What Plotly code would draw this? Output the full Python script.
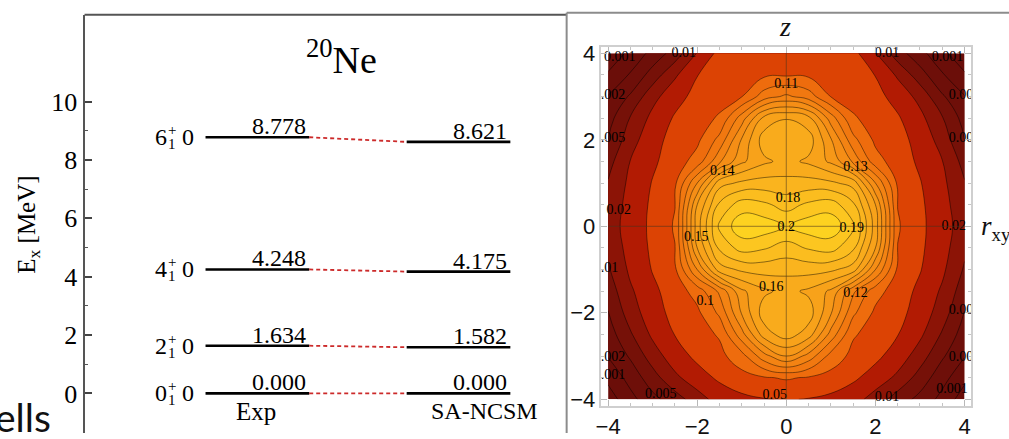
import numpy as np
import plotly.graph_objects as go

# ---------------- left panel: 20Ne ground-state band ----------------
STATE_J = ["0", "2", "4", "6"]
E_EXP = [0.000, 1.634, 4.248, 8.778]
E_SANCSM = [0.000, 1.582, 4.175, 8.621]
E_TICKS = [0, 2, 4, 6, 8, 10]
E_MINOR = [1, 3, 5, 7, 9]

# ---------------- right panel: density on a 0.5 mesh ----------------
# columns: r_xy = 0 ... 4 (the density is mirror-symmetric in r_xy)
R_HALF = [0.0, 0.5, 1.0, 1.5, 2.0, 2.5, 3.0, 3.5, 4.0]
# rows: z = 4 ... -4
Z_ROWS = [4.0, 3.5, 3.0, 2.5, 2.0, 1.5, 1.0, 0.5, 0.0,
          -0.5, -1.0, -1.5, -2.0, -2.5, -3.0, -3.5, -4.0]
RHO_HALF = [
    [0.072, 0.070, 0.067, 0.062, 0.021, 0.0068, 0.0027, 0.0012, 0.0006],
    [0.092, 0.088, 0.078, 0.064, 0.049, 0.018, 0.0068, 0.0022, 0.0011],
    [0.122, 0.115, 0.098, 0.080, 0.062, 0.036, 0.016, 0.0055, 0.0021],
    [0.1595, 0.153, 0.125, 0.101, 0.078, 0.054, 0.026, 0.0105, 0.0035],
    [0.168, 0.165, 0.141, 0.113, 0.086, 0.063, 0.037, 0.015, 0.0049],
    [0.163, 0.158, 0.148, 0.128, 0.104, 0.070, 0.043, 0.0205, 0.0078],
    [0.173, 0.174, 0.172, 0.166, 0.130, 0.088, 0.052, 0.025, 0.0105],
    [0.186, 0.192, 0.195, 0.182, 0.150, 0.098, 0.056, 0.029, 0.012],
    [0.199, 0.206, 0.207, 0.192, 0.155, 0.101, 0.058, 0.030, 0.014],
    [0.186, 0.191, 0.194, 0.182, 0.150, 0.098, 0.056, 0.029, 0.0115],
    [0.173, 0.174, 0.172, 0.165, 0.130, 0.088, 0.052, 0.024, 0.0092],
    [0.163, 0.158, 0.148, 0.122, 0.104, 0.069, 0.041, 0.018, 0.0068],
    [0.168, 0.165, 0.141, 0.112, 0.086, 0.061, 0.035, 0.014, 0.0048],
    [0.165, 0.155, 0.126, 0.101, 0.076, 0.051, 0.024, 0.0092, 0.0032],
    [0.140, 0.126, 0.106, 0.082, 0.058, 0.034, 0.014, 0.0055, 0.0021],
    [0.101, 0.094, 0.078, 0.056, 0.035, 0.017, 0.0075, 0.0028, 0.0012],
    [0.052, 0.048, 0.040, 0.030, 0.0145, 0.0072, 0.0038, 0.0016, 0.0007],
]
LEVELS = [0.001, 0.002, 0.005, 0.01, 0.02, 0.05,
          0.10, 0.11, 0.12, 0.13, 0.14, 0.15, 0.16, 0.17, 0.18, 0.19, 0.20]
# colours of the regions: below the first level, then between successive levels
BAND_COLORS = ["#690d09", "#6b0e09", "#6e0f09", "#761108", "#8c1406",
               "#b21b03", "#dc4304", "#ee6c0d", "#f17810", "#f38313",
               "#f58e16", "#f69818", "#f8a21a", "#f9ab1c", "#fab41e",
               "#fbbd1f", "#fcc620", "#fdd220"]
# contour labels: (text, r_xy, z)
CLABELS = [
    ("0.001", -3.74, 3.90), ("0.01", -2.30, 3.99), ("0.01", 2.26, 3.99),
    ("0.001", 3.62, 3.90), ("0.002", -3.97, 3.03), ("0.002", 4.0, 3.03),
    ("0.005", -3.97, 2.02), ("0.005", 4.0, 2.02), ("0.02", -3.76, 0.36),
    ("0.02", 3.76, 0.0), ("0.01", -4.05, -0.97), ("0.005", 4.0, -1.94),
    ("0.002", -3.97, -3.03), ("0.002", 4.0, -3.03), ("0.001", -3.97, -3.44),
    ("0.001", 3.72, -3.77), ("0.005", -2.82, -3.89), ("0.05", -0.26, -3.92),
    ("0.01", 2.26, -3.97), ("0.11", 0.0, 3.29), ("0.14", -1.44, 1.27),
    ("0.13", 1.55, 1.35), ("0.18", 0.04, 0.65), ("0.2", 0.0, -0.02),
    ("0.19", 1.47, -0.06), ("0.15", -2.02, -0.26), ("0.16", -0.34, -1.41),
    ("0.1", -1.82, -1.73), ("0.12", 1.55, -1.55),
]

W, H = 1009, 439
SERIF = "Liberation Serif"
SANS = "Liberation Sans"

# full mesh, mirrored about r_xy = 0
r_full = [-v for v in R_HALF[:0:-1]] + R_HALF
rho = np.array([row[:0:-1] + row for row in RHO_HALF], dtype=float)[::-1]
z_full = Z_ROWS[::-1]

# map density onto level index (log-interpolated) so that contours fall on LEVELS
logL = np.log(LEVELS)
lr = np.log(rho)
idx = np.interp(lr, logL, np.arange(len(LEVELS), dtype=float))
lo = lr < logL[0]
hi = lr > logL[-1]
idx[lo] = (lr[lo] - logL[0]) / (logL[1] - logL[0])
idx[hi] = len(LEVELS) - 1 + (lr[hi] - logL[-1]) / (logL[-1] - logL[-2])

nb = len(BAND_COLORS) - 1
colorscale = [[i / nb, c] for i, c in enumerate(BAND_COLORS)]

fig = go.Figure()

# ---- level diagram ----
EXP_COL = (1.0, 2.0)
SA_COL = (2.94, 3.94)
for e_exp, e_sa in zip(E_EXP, E_SANCSM):
    fig.add_trace(go.Scatter(x=list(EXP_COL), y=[e_exp, e_exp], mode="lines",
                             line=dict(color="black", width=2.6),
                             xaxis="x", yaxis="y", hoverinfo="skip"))
    fig.add_trace(go.Scatter(x=list(SA_COL), y=[e_sa, e_sa], mode="lines",
                             line=dict(color="black", width=2.6),
                             xaxis="x", yaxis="y", hoverinfo="skip"))
    fig.add_trace(go.Scatter(x=[EXP_COL[1], SA_COL[0]], y=[e_exp, e_sa],
                             mode="lines",
                             line=dict(color="#cc2a2a", width=1.8, dash="4px,3px"),
                             xaxis="x", yaxis="y", hoverinfo="skip"))

annotations = []
for j, e_exp, e_sa in zip(STATE_J, E_EXP, E_SANCSM):
    annotations += [
        dict(x=1.99, y=e_exp, text=f"{e_exp:.3f}", xanchor="right", yanchor="bottom",
             yshift=-4, font=dict(family=SERIF, size=24, color="black")),
        dict(x=3.93, y=e_sa, text=f"{e_sa:.3f}", xanchor="right", yanchor="bottom",
             yshift=-4, font=dict(family=SERIF, size=24, color="black")),
        dict(x=0.648, y=e_exp, text=j, xanchor="right", yanchor="middle",
             font=dict(family=SERIF, size=24, color="black")),
        dict(x=0.617, y=e_exp, text="+", xanchor="left", yanchor="middle", yshift=7,
             font=dict(family=SERIF, size=15, color="black")),
        dict(x=0.617, y=e_exp, text="1", xanchor="left", yanchor="middle", yshift=-7,
             font=dict(family=SERIF, size=15, color="black")),
        dict(x=0.754, y=e_exp, text="0", xanchor="left", yanchor="middle",
             font=dict(family=SERIF, size=24, color="black")),
    ]
for a in annotations:
    a.update(xref="x", yref="y", showarrow=False)

annotations += [
    dict(x=1.489, y=E_EXP[0], xref="x", yref="y", text="Exp", showarrow=False,
         xanchor="center", yanchor="top", yshift=-3,
         font=dict(family=SERIF, size=25, color="black")),
    dict(x=3.687, y=E_SANCSM[0], xref="x", yref="y", text="SA-NCSM", showarrow=False,
         xanchor="center", yanchor="top", yshift=-3,
         font=dict(family=SERIF, size=24, color="black")),
    dict(x=338 / W, y=1 - 52 / H, xref="paper", yref="paper",
         text="<sup>20</sup>Ne", showarrow=False, xanchor="center", yanchor="middle",
         font=dict(family=SERIF, size=38, color="black")),
    dict(x=23 / W, y=1 - 225 / H, xref="paper", yref="paper",
         text="E<sub>x</sub> [MeV]", showarrow=False, textangle=-90,
         xanchor="center", yanchor="middle",
         font=dict(family=SERIF, size=25, color="black")),
    dict(x=47 / W, y=1 - 423 / H, xref="paper", yref="paper", text="ells",
         showarrow=False, xanchor="right", yanchor="middle",
         font=dict(family="Lato", size=39, color="#111111")),
    dict(x=784 / W, y=1 - 21 / H, xref="paper", yref="paper", text="<i>z</i>",
         showarrow=False, xanchor="center", yanchor="middle",
         font=dict(family=SERIF, size=28, color="#111")),
    dict(x=979 / W, y=1 - 228 / H, xref="paper", yref="paper",
         text="<i>r</i><sub>xy</sub>", showarrow=False, xanchor="left",
         yanchor="middle", font=dict(family=SERIF, size=27, color="#111")),
]

# ---- density contours ----
fig.add_trace(go.Contour(
    x=r_full, y=z_full, z=idx, xaxis="x2", yaxis="y2",
    autocontour=False,
    contours=dict(start=0, end=len(LEVELS) - 1, size=1, coloring="fill",
                  showlines=True),
    line=dict(color="rgba(0,0,0,0.45)", width=1, smoothing=1.25),
    colorscale=colorscale, showscale=False, hoverinfo="skip",
))
fig.add_trace(go.Scatter(
    x=[c[1] for c in CLABELS], y=[c[2] for c in CLABELS],
    text=[c[0] for c in CLABELS], mode="text", cliponaxis=True,
    textfont=dict(family=SERIF, size=14, color="black"),
    xaxis="x2", yaxis="y2", hoverinfo="skip",
))

X1 = (79, 564)     # left panel, px
X2 = (599, 971)    # frame of the density plot, px
Y2 = (42, 411)
lim = 4.15

fig.update_layout(
    width=W, height=H, autosize=False,
    margin=dict(l=0, r=0, t=0, b=0),
    paper_bgcolor="white", plot_bgcolor="rgba(0,0,0,0)",
    showlegend=False,
    font=dict(family=SERIF),
    xaxis=dict(domain=[X1[0] / W, X1[1] / W], range=[-0.167, 4.483],
               visible=False, fixedrange=True),
    yaxis=dict(domain=[0, 1 - 9 / H], range=[-1.357, 12.977], anchor="x",
               tickvals=E_TICKS, ticktext=[str(t) for t in E_TICKS],
               ticks="inside", ticklen=7, tickwidth=1.5,
               tickcolor="#444", showline=True, linecolor="#555", linewidth=2,
               showgrid=False, zeroline=False,
               tickfont=dict(family=SERIF, size=26, color="black"),
               minor=dict(tickvals=E_MINOR, ticks="inside", ticklen=3,
                          tickcolor="#555", tickwidth=1)),
    xaxis2=dict(domain=[X2[0] / W, X2[1] / W], range=[-lim, lim], anchor="y2",
                tickvals=[-4, -2, 0, 2, 4], ticks="inside", ticklen=6,
                tickcolor="#b8b8b8", showline=True, mirror="ticks",
                linecolor="#cfcfcf", linewidth=1.5, showgrid=False, zeroline=False,
                tickfont=dict(family=SANS, size=22, color="#111"),
                minor=dict(dtick=0.5, tick0=0, ticks="inside", ticklen=3,
                           tickcolor="#c4c4c4")),
    yaxis2=dict(domain=[1 - Y2[1] / H, 1 - Y2[0] / H], range=[-lim, lim], anchor="x2",
                tickvals=[-4, -2, 0, 2, 4], ticks="inside", ticklen=6,
                tickcolor="#b8b8b8", showline=True, mirror="ticks",
                linecolor="#cfcfcf", linewidth=1.5, showgrid=False, zeroline=False,
                tickfont=dict(family=SANS, size=22, color="#111"),
                minor=dict(dtick=0.5, tick0=0, ticks="inside", ticklen=3,
                           tickcolor="#c4c4c4")),
    annotations=annotations,
    shapes=[
        # frame of the left panel
        dict(type="line", xref="paper", yref="paper", x0=X1[0] / W, x1=564 / W,
             y0=1 - 9 / H, y1=1 - 9 / H, line=dict(color="#555", width=2)),
        # border of the right panel
        dict(type="line", xref="paper", yref="paper", x0=564 / W, x1=1,
             y0=1 - 7 / H, y1=1 - 7 / H, line=dict(color="#8c8c8c", width=2)),
        dict(type="line", xref="paper", yref="paper", x0=564 / W, x1=564 / W,
             y0=0, y1=1 - 7 / H, line=dict(color="#8c8c8c", width=2)),
        # axes through the origin of the density plot
        dict(type="line", xref="x2", yref="y2", x0=-4, x1=4, y0=0, y1=0,
             line=dict(color="rgba(70,50,30,0.45)", width=1.2), layer="above"),
        dict(type="line", xref="x2", yref="y2", x0=0, x1=0, y0=-4, y1=4,
             line=dict(color="rgba(70,50,30,0.45)", width=1.2), layer="above"),
    ],
)

fig.write_html("out.html")
